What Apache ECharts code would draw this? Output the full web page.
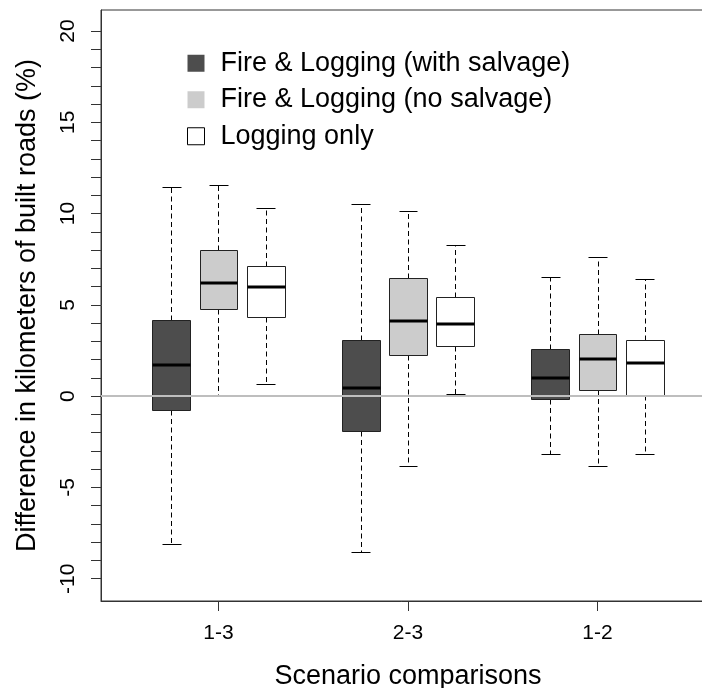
<!DOCTYPE html>
<html>
<head>
<meta charset="utf-8">
<script src="https://cdn.jsdelivr.net/npm/echarts@6/dist/echarts.min.js"></script>
<style>html,body{margin:0;padding:0;background:#fff}#main{width:702px;height:688px}</style>
</head>
<body>
<div id="main"></div>
<script>
// ---- data ----
const categories = ['1-3', '2-3', '1-2'];
const seriesNames = ['Fire & Logging (with salvage)', 'Fire & Logging (no salvage)', 'Logging only'];
// each entry: [lower whisker, Q1, median, Q3, upper whisker]
const withSalvage = [
  [-8.08, -0.74, 1.68, 4.18, 11.44],
  [-8.54, -1.92, 0.44, 3.07, 10.51],
  [-3.19, -0.13, 0.99, 2.57, 6.55]
];
const noSalvage = [
  [0.00, 4.80, 6.21, 8.03, 11.55],
  [-3.81, 2.27, 4.11, 6.46, 10.13],
  [-3.81, 0.35, 2.03, 3.38, 7.61]
];
const loggingOnly = [
  [0.68, 4.36, 5.97, 7.12, 10.31],
  [0.13, 2.74, 3.94, 5.42, 8.27],
  [-3.15, 0.08, 1.84, 3.05, 6.39]
];
const yTickLabels = [-10, -5, 0, 5, 10, 15, 20];
const yMinorTicks = [-10,-9,-8,-7,-6,-5,-4,-3,-2,-1,0,1,2,3,4,5,6,7,8,9,10,11,12,13,14,15,16,17,18,19,20];

// ---- layout / style ----
const allSeries = [withSalvage, noSalvage, loggingOnly];
const fills = ['#4d4d4d', '#cccccc', '#ffffff'];
const GROUP_STEP = 4;      // R-style positions 1,2,3 | 5,6,7 | 9,10,11
const BOX_W = 0.8;
const CAP_W = 0.4;
const groupCenters = categories.map((c, i) => i * GROUP_STEP + 2);
const FONT = "'Liberation Sans', Arial, sans-serif";

function px(v) { return Math.round(v) + 0.5; }

function makeRender(si) {
  return function (params, api) {
    const x = api.value(0);
    const lo = api.value(1), q1 = api.value(2), md = api.value(3), q3 = api.value(4), hi = api.value(5);
    const bw = api.size([BOX_W, 0])[0];
    const cw = api.size([CAP_W, 0])[0];
    const c = api.coord([x, md]);
    const cx = px(c[0]);
    const yLo = px(api.coord([x, lo])[1]);
    const yQ1 = px(api.coord([x, q1])[1]);
    const yMd = api.coord([x, md])[1];
    const yQ3 = px(api.coord([x, q3])[1]);
    const yHi = px(api.coord([x, hi])[1]);
    const left = px(c[0] - bw / 2), right = px(c[0] + bw / 2);
    const dash = {stroke: '#000', lineWidth: 1, lineDash: [5, 3.5]};
    const solid = {stroke: '#000', lineWidth: 1};
    return {
      type: 'group',
      children: [
        {type: 'line', shape: {x1: cx, y1: yQ3, x2: cx, y2: yHi}, style: dash},
        {type: 'line', shape: {x1: cx, y1: yQ1, x2: cx, y2: yLo}, style: dash},
        {type: 'line', shape: {x1: px(c[0] - cw / 2), y1: yHi, x2: px(c[0] + cw / 2), y2: yHi}, style: solid},
        {type: 'line', shape: {x1: px(c[0] - cw / 2), y1: yLo, x2: px(c[0] + cw / 2), y2: yLo}, style: solid},
        {type: 'rect', shape: {x: left, y: yQ3, width: right - left, height: yQ1 - yQ3},
          style: {fill: fills[si], stroke: '#222', lineWidth: 1}},
        {type: 'line', shape: {x1: left, y1: Math.round(yMd), x2: right, y2: Math.round(yMd)},
          style: {stroke: '#000', lineWidth: 3}}
      ]
    };
  };
}

const series = allSeries.map((arr, si) => ({
  type: 'custom',
  name: seriesNames[si],
  renderItem: makeRender(si),
  itemStyle: {color: fills[si]},
  encode: {x: 0, y: [1, 2, 3, 4, 5]},
  data: arr.map((d, gi) => [gi * GROUP_STEP + 1 + si].concat(d)),
  z: 2
}));

series.push({
  type: 'line',
  name: 'zero',
  data: [],
  z: 5,
  markLine: {
    silent: true,
    symbol: ['none', 'none'],
    label: {show: false},
    lineStyle: {color: '#bebebe', width: 2, type: 'solid'},
    data: [{yAxis: 0}],
    animation: false
  }
});

const chart = echarts.init(document.getElementById('main'));
chart.setOption({
  animation: false,
  backgroundColor: '#fff',
  textStyle: {fontFamily: FONT},
  grid: {left: 101, top: 10, width: 614, height: 591, show: true, borderColor: '#333', borderWidth: 1,
    containLabel: false, outerBoundsMode: 'none'},
  legend: {
    orient: 'vertical',
    left: 187,
    top: 45,
    padding: 0,
    icon: 'rect',
    itemWidth: 17,
    itemHeight: 17,
    itemGap: 0,
    selectedMode: false,
    textStyle: {fontSize: 27, color: '#000', fontFamily: FONT, lineHeight: 36.5, padding: [0, 0, 0, 11]},
    data: [
      {name: seriesNames[0], itemStyle: {color: fills[0], borderWidth: 0}},
      {name: seriesNames[1], itemStyle: {color: fills[1], borderWidth: 0}},
      {name: seriesNames[2], itemStyle: {color: fills[2], borderColor: '#000', borderWidth: 1}}
    ]
  },
  xAxis: {
    type: 'value',
    min: -0.48,
    max: 12.48,
    name: 'Scenario comparisons',
    nameLocation: 'middle',
    nameGap: 62,
    nameTextStyle: {fontSize: 27, color: '#000', fontFamily: FONT},
    axisLine: {show: true, onZero: false, lineStyle: {color: '#333', width: 1}},
    axisTick: {show: true, length: 10, inside: false, customValues: groupCenters, lineStyle: {color: '#333'}},
    axisLabel: {
      show: true, fontSize: 21, color: '#000', margin: 22, fontFamily: FONT,
      customValues: groupCenters,
      formatter: v => categories[groupCenters.indexOf(v)] || ''
    },
    splitLine: {show: false}
  },
  yAxis: {
    type: 'value',
    min: -11.22,
    max: 21.15,
    name: 'Difference in kilometers of built roads (%)',
    nameLocation: 'middle',
    nameRotate: 90,
    nameGap: 60,
    nameTextStyle: {fontSize: 27, color: '#000', fontFamily: FONT},
    axisLine: {show: true, onZero: false, lineStyle: {color: '#333', width: 1}},
    axisTick: {show: true, length: 10, inside: false, customValues: yMinorTicks, lineStyle: {color: '#333'}},
    axisLabel: {
      show: true, fontSize: 21, color: '#000', margin: 22, rotate: 90, fontFamily: FONT,
      customValues: yTickLabels
    },
    splitLine: {show: false}
  },
  series: series
});
</script>
</body>
</html>
